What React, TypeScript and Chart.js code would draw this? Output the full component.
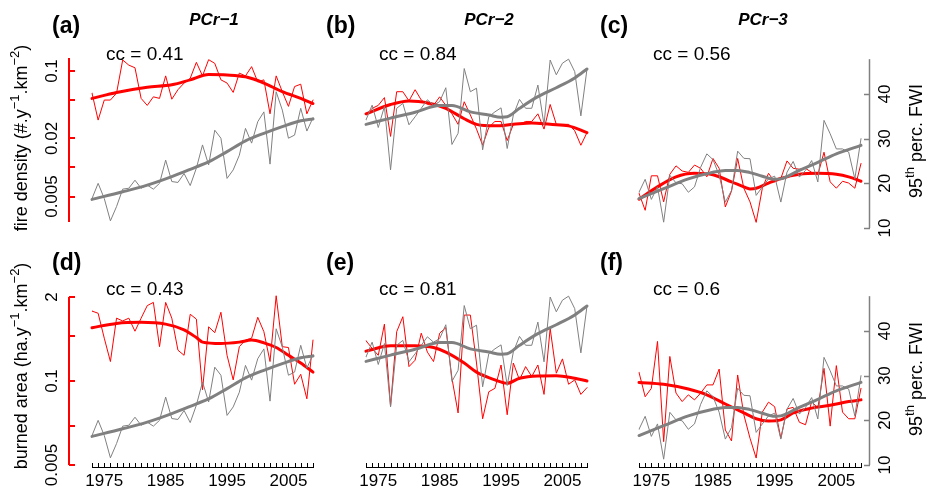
import React, { useEffect, useRef } from "react";
import { Chart, registerables } from "chart.js";
Chart.register(...registerables);

// ---------------- data ----------------
const YEARS = [
  1973, 1974, 1975, 1976, 1977, 1978, 1979, 1980, 1981, 1982, 1983, 1984, 1985,
  1986, 1987, 1988, 1989, 1990, 1991, 1992, 1993, 1994, 1995, 1996, 1997, 1998,
  1999, 2000, 2001, 2002, 2003, 2004, 2005, 2006, 2007, 2008, 2009,
];
const X_LABEL_YEARS = [1975, 1985, 1995, 2005];

// fire density (#.y-1.km-2), annual
const FIRE_DENSITY_PCR1 = [0.059, 0.031, 0.05, 0.05, 0.059, 0.13, 0.115, 0.108, 0.052, 0.044, 0.054, 0.052, 0.089, 0.051, 0.064, 0.075, 0.084, 0.123, 0.089, 0.131, 0.12, 0.081, 0.075, 0.06, 0.095, 0.089, 0.111, 0.077, 0.081, 0.036, 0.089, 0.061, 0.043, 0.069, 0.073, 0.036, 0.05];
const FIRE_DENSITY_PCR2 = [0.035, 0.041, 0.044, 0.053, 0.021, 0.061, 0.061, 0.049, 0.064, 0.05, 0.045, 0.044, 0.054, 0.044, 0.036, 0.028, 0.048, 0.035, 0.025, 0.017, 0.026, 0.03, 0.03, 0.019, 0.028, 0.028, 0.03, 0.03, 0.036, 0.025, 0.045, 0.028, 0.028, 0.028, 0.024, 0.017, 0.023];
const FIRE_DENSITY_PCR3 = [0.0054, 0.0036, 0.0082, 0.0082, 0.0044, 0.0085, 0.0104, 0.0092, 0.0089, 0.0106, 0.0098, 0.008, 0.0124, 0.0098, 0.0039, 0.0057, 0.0124, 0.0061, 0.0044, 0.0027, 0.0061, 0.0087, 0.0071, 0.0077, 0.0117, 0.0098, 0.0096, 0.0098, 0.0089, 0.0084, 0.0144, 0.0071, 0.0061, 0.0072, 0.0069, 0.0061, 0.011];

// burned area (ha.y-1.km-2), annual
const BURNED_AREA_PCR1 = [1.21, 1.12, 0.46, 0.2, 0.94, 0.85, 0.94, 0.59, 0.94, 1.47, 1.65, 0.34, 1.65, 0.94, 0.3, 0.25, 1.08, 0.91, 0.073, 0.69, 0.56, 1.16, 0.25, 0.104, 0.34, 0.43, 0.46, 0.97, 0.58, 0.2, 2.09, 0.34, 0.33, 0.089, 0.127, 0.053, 0.43];
const BURNED_AREA_PCR2 = [0.42, 0.32, 0.25, 0.76, 0.041, 0.58, 0.99, 0.167, 0.21, 0.55, 0.28, 0.2, 0.55, 0.67, 0.11, 0.032, 1.05, 1.05, 0.19, 0.026, 0.068, 0.077, 0.177, 0.03, 0.19, 0.104, 0.167, 0.117, 0.177, 0.062, 0.65, 0.132, 0.22, 0.089, 0.104, 0.062, 0.079];
const BURNED_AREA_PCR3 = [0.136, 0.057, 0.077, 0.41, 0.0115, 0.24, 0.065, 0.048, 0.061, 0.051, 0.065, 0.087, 0.087, 0.153, 0.0174, 0.0118, 0.124, 0.03, 0.013, 0.0064, 0.033, 0.047, 0.04, 0.013, 0.037, 0.039, 0.023, 0.021, 0.048, 0.038, 0.157, 0.02, 0.173, 0.033, 0.026, 0.026, 0.077];

// 95th percentile FWI, annual
const FWI_PCR1 = [16.6, 20.0, 16.6, 11.6, 14.8, 18.7, 18.9, 20.7, 18.9, 19.6, 18.7, 20.0, 25.2, 20.4, 20.2, 22.2, 19.5, 23.4, 28.6, 24.1, 31.9, 30.1, 21.1, 23.0, 26.3, 32.3, 29.0, 33.8, 36.0, 24.3, 40.5, 36.4, 30.1, 30.8, 36.8, 31.7, 34.7];
const FWI_PCR2 = [34.2, 37.5, 32.5, 37.2, 23.0, 36.8, 37.9, 33.1, 34.9, 36.8, 38.7, 37.5, 38.3, 41.4, 28.7, 31.2, 45.7, 40.5, 41.3, 27.5, 34.9, 36.0, 36.9, 27.8, 35.3, 38.8, 36.8, 36.8, 42.0, 33.1, 47.6, 44.3, 46.9, 47.8, 45.0, 35.1, 45.6];
const FWI_PCR3 = [18.0, 20.9, 16.4, 19.2, 11.3, 21.8, 20.1, 19.9, 18.0, 19.2, 23.6, 26.6, 25.3, 21.8, 15.8, 18.4, 27.2, 25.6, 25.5, 17.3, 19.2, 21.0, 21.6, 15.8, 22.5, 24.9, 21.4, 22.9, 25.1, 20.3, 34.1, 31.1, 27.7, 27.7, 27.0, 21.0, 30.0];

// smoothed curves
const FD_SMOOTH_PCR1_YEARS = [1973, 1977, 1982, 1986, 1989, 1992, 1995, 1998, 2001, 2004, 2007, 2009];
const FD_SMOOTH_PCR1 = [0.052, 0.06, 0.068, 0.072, 0.081, 0.092, 0.091, 0.087, 0.075, 0.061, 0.052, 0.046];
const FD_SMOOTH_PCR2_YEARS = [1973, 1977, 1980, 1983, 1986, 1989, 1991, 1994, 1997, 2000, 2003, 2006, 2009];
const FD_SMOOTH_PCR2 = [0.036, 0.045, 0.049, 0.047, 0.041, 0.032, 0.028, 0.027, 0.028, 0.029, 0.028, 0.027, 0.023];
const FD_SMOOTH_PCR3_YEARS = [1973, 1976, 1979, 1982, 1985, 1988, 1990, 1991, 1992, 1994, 1996, 1999, 2002, 2005, 2007, 2009];
const FD_SMOOTH_PCR3 = [0.0047, 0.0063, 0.008, 0.0087, 0.0084, 0.0071, 0.0063, 0.006, 0.0061, 0.0069, 0.0077, 0.0085, 0.0087, 0.0085, 0.008, 0.0072];

const BA_SMOOTH_PCR1_YEARS = [1973, 1977, 1981, 1985, 1988, 1990, 1991, 1994, 1997, 1999, 2001, 2003, 2005, 2007, 2009];
const BA_SMOOTH_PCR1 = [0.67, 0.78, 0.81, 0.76, 0.62, 0.47, 0.4, 0.38, 0.4, 0.43, 0.39, 0.33, 0.25, 0.19, 0.137];
const BA_SMOOTH_PCR2_YEARS = [1973, 1977, 1981, 1984, 1986, 1989, 1991, 1994, 1996, 1998, 2001, 2004, 2007, 2009];
const BA_SMOOTH_PCR2 = [0.29, 0.35, 0.35, 0.33, 0.28, 0.19, 0.137, 0.104, 0.092, 0.11, 0.12, 0.121, 0.11, 0.1];
const BA_SMOOTH_PCR3_YEARS = [1973, 1977, 1981, 1984, 1987, 1990, 1992, 1994, 1996, 1998, 2001, 2004, 2007, 2009];
const BA_SMOOTH_PCR3 = [0.095, 0.089, 0.075, 0.061, 0.044, 0.032, 0.026, 0.024, 0.025, 0.032, 0.038, 0.042, 0.048, 0.051];

const FWI_SMOOTH_PCR1_YEARS = [1973, 1978, 1982, 1986, 1990, 1992, 1995, 1998, 2001, 2004, 2007, 2009];
const FWI_SMOOTH_PCR1 = [16.4, 18.1, 19.6, 21.5, 23.7, 24.8, 27.1, 29.5, 31.2, 32.7, 34.0, 34.4];
const FWI_SMOOTH_PCR2_YEARS = [1973, 1977, 1981, 1985, 1987, 1990, 1993, 1995, 1996, 1998, 2001, 2004, 2007, 2009];
const FWI_SMOOTH_PCR2 = [33.2, 34.6, 35.9, 37.4, 37.4, 36.0, 35.3, 34.8, 34.9, 36.8, 39.4, 41.4, 43.6, 45.6];
const FWI_SMOOTH_PCR3_YEARS = [1973, 1977, 1981, 1985, 1987, 1989, 1991, 1993, 1995, 1996, 1999, 2002, 2005, 2009];
const FWI_SMOOTH_PCR3 = [16.6, 18.8, 21.0, 22.5, 22.9, 22.9, 22.4, 21.6, 20.9, 21.0, 22.9, 24.7, 26.6, 28.5];

const CC_VALUES = ["cc = 0.41", "cc = 0.84", "cc = 0.56", "cc = 0.43", "cc = 0.81", "cc = 0.6"];
const PANEL_LETTERS = ["(a)", "(b)", "(c)", "(d)", "(e)", "(f)"];
const REGION_TITLES = ["PCr\u22121", "PCr\u22122", "PCr\u22123"];

const FD_TICKS = [0.1, 0.05, 0.02, 0.01, 0.005];
const FD_TICK_LABELS = ["0.1", "", "0.02", "", "0.005"];
const BA_TICKS = [2, 0.5, 0.1, 0.02, 0.005];
const BA_TICK_LABELS = ["2", "", "0.1", "", "0.005"];
const FWI_TICKS = [10, 20, 30, 40];
const FWI_TICK_LABELS = ["10", "20", "30", "40"];

// ---------------- layout / style ----------------
const W = 928;
const H = 492;
const FONT = '"Liberation Sans", Arial, Helvetica, sans-serif';
const RED = "#FF0000";
const GRAY = "#808080";
const COL_X = [
  [92, 313],
  [366, 587],
  [639, 861],
];
const ROW_Y = [
  [55, 228],
  [290, 465],
];
const RED_RANGE = [
  [0.00236, 0.1465],
  [0.005, 2.566],
];
const RED_AXIS_EXTENT = [
  [0.00272, 0.136],
  [0.005, 2],
];
const FWI_RANGE = [
  [10, 48.73],
  [10, 49.18],
];
const FWI_AXIS_TOP = 47.8;
const LETTER_X = [52, 326, 600];
const LETTER_Y = [27, 264];
const CC_X = [106, 379, 653];
const CC_Y = [55, 290];
const TITLE_X = [214, 489, 763];

type Seg = { t: string; sup?: boolean };

function drawRich(ctx: CanvasRenderingContext2D, segs: Seg[], x: number, y: number, size: number, rotate: boolean) {
  ctx.save();
  ctx.translate(x, y);
  if (rotate) ctx.rotate(-Math.PI / 2);
  ctx.textBaseline = "alphabetic";
  ctx.textAlign = "left";
  const supSize = Math.round(size * 0.72);
  const widths = segs.map((s) => {
    ctx.font = `${s.sup ? supSize : size}px ${FONT}`;
    return ctx.measureText(s.t).width;
  });
  const total = widths.reduce((a, b) => a + b, 0);
  let cx = -total / 2;
  segs.forEach((s, i) => {
    ctx.font = `${s.sup ? supSize : size}px ${FONT}`;
    ctx.fillText(s.t, cx, s.sup ? -size * 0.45 : 0);
    cx += widths[i];
  });
  ctx.restore();
}

function rotLabel(ctx: CanvasRenderingContext2D, s: string, x: number, y: number, size: number) {
  ctx.save();
  ctx.translate(x, y);
  ctx.rotate(-Math.PI / 2);
  ctx.font = `${size}px ${FONT}`;
  ctx.textAlign = "center";
  ctx.textBaseline = "middle";
  ctx.fillText(s, 0, 0);
  ctx.restore();
}

type Panel = {
  idx: number;
  col: number;
  row: number;
  red: number[];
  redSmoothYears: number[];
  redSmooth: number[];
  fwi: number[];
  fwiSmoothYears: number[];
  fwiSmooth: number[];
};

const PANELS: Panel[] = [
  { idx: 0, col: 0, row: 0, red: FIRE_DENSITY_PCR1, redSmoothYears: FD_SMOOTH_PCR1_YEARS, redSmooth: FD_SMOOTH_PCR1, fwi: FWI_PCR1, fwiSmoothYears: FWI_SMOOTH_PCR1_YEARS, fwiSmooth: FWI_SMOOTH_PCR1 },
  { idx: 1, col: 1, row: 0, red: FIRE_DENSITY_PCR2, redSmoothYears: FD_SMOOTH_PCR2_YEARS, redSmooth: FD_SMOOTH_PCR2, fwi: FWI_PCR2, fwiSmoothYears: FWI_SMOOTH_PCR2_YEARS, fwiSmooth: FWI_SMOOTH_PCR2 },
  { idx: 2, col: 2, row: 0, red: FIRE_DENSITY_PCR3, redSmoothYears: FD_SMOOTH_PCR3_YEARS, redSmooth: FD_SMOOTH_PCR3, fwi: FWI_PCR3, fwiSmoothYears: FWI_SMOOTH_PCR3_YEARS, fwiSmooth: FWI_SMOOTH_PCR3 },
  { idx: 3, col: 0, row: 1, red: BURNED_AREA_PCR1, redSmoothYears: BA_SMOOTH_PCR1_YEARS, redSmooth: BA_SMOOTH_PCR1, fwi: FWI_PCR1, fwiSmoothYears: FWI_SMOOTH_PCR1_YEARS, fwiSmooth: FWI_SMOOTH_PCR1 },
  { idx: 4, col: 1, row: 1, red: BURNED_AREA_PCR2, redSmoothYears: BA_SMOOTH_PCR2_YEARS, redSmooth: BA_SMOOTH_PCR2, fwi: FWI_PCR2, fwiSmoothYears: FWI_SMOOTH_PCR2_YEARS, fwiSmooth: FWI_SMOOTH_PCR2 },
  { idx: 5, col: 2, row: 1, red: BURNED_AREA_PCR3, redSmoothYears: BA_SMOOTH_PCR3_YEARS, redSmooth: BA_SMOOTH_PCR3, fwi: FWI_PCR3, fwiSmoothYears: FWI_SMOOTH_PCR3_YEARS, fwiSmooth: FWI_SMOOTH_PCR3 },
];

const zip = (xs: number[], ys: number[]) => xs.map((x, i) => ({ x, y: ys[i] }));

function decorPlugin(p: Panel) {
  return {
    id: "decor" + p.idx,
    afterDraw(chart: any) {
      const ctx: CanvasRenderingContext2D = chart.ctx;
      const xs = chart.scales.x;
      const yr = chart.scales.yRed;
      const yf = chart.scales.yFwi;
      ctx.save();
      ctx.setLineDash([]);
      ctx.globalAlpha = 1;
      ctx.fillStyle = "#000";
      // panel letter
      ctx.font = `bold 23px ${FONT}`;
      ctx.textAlign = "left";
      ctx.textBaseline = "middle";
      ctx.fillText(PANEL_LETTERS[p.idx], LETTER_X[p.col], LETTER_Y[p.row]);
      // region title
      if (p.row === 0) {
        ctx.font = `italic bold 17px ${FONT}`;
        ctx.textAlign = "center";
        ctx.fillText(REGION_TITLES[p.col], TITLE_X[p.col], 20);
      }
      // cc
      ctx.font = `19px ${FONT}`;
      ctx.textAlign = "left";
      ctx.fillText(CC_VALUES[p.idx], CC_X[p.col], CC_Y[p.row]);

      // left red axis
      if (p.col === 0) {
        const ax = 69;
        const ticks = p.row === 0 ? FD_TICKS : BA_TICKS;
        const labels = p.row === 0 ? FD_TICK_LABELS : BA_TICK_LABELS;
        const ext = RED_AXIS_EXTENT[p.row];
        ctx.strokeStyle = RED;
        ctx.lineWidth = 2;
        ctx.beginPath();
        ctx.moveTo(ax, yr.getPixelForValue(ext[1]));
        ctx.lineTo(ax, yr.getPixelForValue(ext[0]));
        ctx.stroke();
        ticks.forEach((v) => {
          const py = Math.round(yr.getPixelForValue(v));
          ctx.beginPath();
          ctx.moveTo(ax, py);
          ctx.lineTo(ax + 6, py);
          ctx.stroke();
        });
        ctx.fillStyle = "#000";
        ticks.forEach((v, i) => {
          if (labels[i]) rotLabel(ctx, labels[i], 52, yr.getPixelForValue(v), 17);
        });
        const segs: Seg[] =
          p.row === 0
            ? [{ t: "fire density (#.y" }, { t: "\u22121", sup: true }, { t: ".km" }, { t: "\u22122", sup: true }, { t: ")" }]
            : [{ t: "burned area (ha.y" }, { t: "\u22121", sup: true }, { t: ".km" }, { t: "\u22122", sup: true }, { t: ")" }];
        drawRich(ctx, segs, 27, p.row === 0 ? 138 : 366, 18, true);
      }

      // right FWI axis
      if (p.col === 2) {
        const ax = 869;
        ctx.strokeStyle = GRAY;
        ctx.lineWidth = 1.5;
        ctx.beginPath();
        ctx.moveTo(ax + 0.5, yf.getPixelForValue(FWI_AXIS_TOP));
        ctx.lineTo(ax + 0.5, yf.getPixelForValue(FWI_TICKS[0]));
        ctx.stroke();
        FWI_TICKS.forEach((v) => {
          const py = Math.round(yf.getPixelForValue(v)) + 0.5;
          ctx.beginPath();
          ctx.moveTo(ax - 5, py);
          ctx.lineTo(ax + 1, py);
          ctx.stroke();
        });
        ctx.fillStyle = "#000";
        FWI_TICKS.forEach((v, i) => {
          rotLabel(ctx, FWI_TICK_LABELS[i], 885, yf.getPixelForValue(v), 17);
        });
        drawRich(ctx, [{ t: "95" }, { t: "th", sup: true }, { t: " perc. FWI" }], 922, p.row === 0 ? 141 : 379, 18, true);
      }

      // x axis
      if (p.row === 1) {
        const ay = 467;
        ctx.strokeStyle = "#000";
        ctx.lineWidth = 1;
        ctx.beginPath();
        ctx.moveTo(xs.getPixelForValue(YEARS[0]), ay + 0.5);
        ctx.lineTo(xs.getPixelForValue(YEARS[YEARS.length - 1]), ay + 0.5);
        ctx.stroke();
        YEARS.forEach((yv) => {
          const px = Math.round(xs.getPixelForValue(yv)) + 0.5;
          ctx.beginPath();
          ctx.moveTo(px, ay + 1);
          ctx.lineTo(px, ay - 4);
          ctx.stroke();
        });
        ctx.fillStyle = "#000";
        ctx.font = `17px ${FONT}`;
        ctx.textAlign = "center";
        ctx.textBaseline = "middle";
        X_LABEL_YEARS.forEach((yv) => {
          ctx.fillText(String(yv), xs.getPixelForValue(yv), 481);
        });
      }
      ctx.restore();
    },
  };
}

function buildConfig(p: Panel): any {
  const [x0, x1] = COL_X[p.col];
  const [y0, y1] = ROW_Y[p.row];
  return {
    type: "line",
    data: {
      datasets: [
        { data: zip(YEARS, p.red), yAxisID: "yRed", borderColor: RED, borderWidth: 1, pointRadius: 0, tension: 0, order: 4, clip: false },
        { data: zip(p.redSmoothYears, p.redSmooth), yAxisID: "yRed", borderColor: RED, borderWidth: 3, pointRadius: 0, cubicInterpolationMode: "monotone", order: 3, clip: false },
        { data: zip(YEARS, p.fwi), yAxisID: "yFwi", borderColor: GRAY, borderWidth: 1, pointRadius: 0, tension: 0, order: 2, clip: false },
        { data: zip(p.fwiSmoothYears, p.fwiSmooth), yAxisID: "yFwi", borderColor: GRAY, borderWidth: 3, pointRadius: 0, cubicInterpolationMode: "monotone", order: 1, clip: false },
      ],
    },
    options: {
      responsive: false,
      animation: false,
      devicePixelRatio: 1,
      events: [],
      layout: { padding: { left: x0, right: W - x1, top: y0, bottom: H - y1 } },
      plugins: { legend: { display: false }, tooltip: { enabled: false }, title: { display: false } },
      elements: { line: { borderCapStyle: "round", borderJoinStyle: "round" } },
      scales: {
        x: { type: "linear", min: YEARS[0], max: YEARS[YEARS.length - 1], display: false, bounds: "data" },
        yRed: { type: "logarithmic", position: "left", min: RED_RANGE[p.row][0], max: RED_RANGE[p.row][1], display: false, bounds: "data" },
        yFwi: { type: "linear", position: "right", min: FWI_RANGE[p.row][0], max: FWI_RANGE[p.row][1], display: false, bounds: "data" },
      },
    },
    plugins: [decorPlugin(p)],
  };
}

export default function App() {
  const refs = useRef<(HTMLCanvasElement | null)[]>([]);
  useEffect(() => {
    const charts = PANELS.map((p, i) => new Chart(refs.current[i] as HTMLCanvasElement, buildConfig(p)));
    return () => charts.forEach((c) => c.destroy());
  }, []);
  return (
    <div style={{ position: "absolute", left: 0, top: 0, width: W, height: H, background: "#fff" }}>
      {PANELS.map((p, i) => (
        <canvas
          key={p.idx}
          ref={(el) => {
            refs.current[i] = el;
          }}
          width={W}
          height={H}
          style={{ position: "absolute", left: 0, top: 0, width: W, height: H }}
        />
      ))}
    </div>
  );
}
